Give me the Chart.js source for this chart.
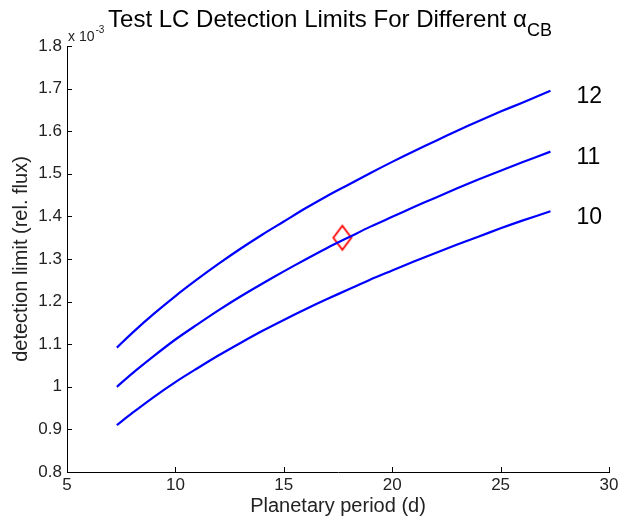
<!DOCTYPE html>
<html lang="en">
<head>
<meta charset="UTF-8">
<title>Test LC Detection Limits</title>
<script src="https://cdn.jsdelivr.net/npm/chart.js"></script>
<style>
  html, body { margin: 0; padding: 0; background: #fff; }
</style>
</head>
<body>
<canvas id="dlChart" width="633" height="520"></canvas>
<script>
// planetary period (d)
const periods = [7.3, 8, 9, 10, 11, 12, 13, 14, 15, 16, 17, 18, 19, 20, 21, 22, 23, 24, 25, 26, 27.3];
// detection limit, units of 1e-3 rel. flux
const limit12 = [1.092, 1.126, 1.171, 1.213, 1.252, 1.289, 1.324, 1.357, 1.388, 1.419, 1.448, 1.475, 1.502, 1.528, 1.553, 1.577, 1.601, 1.624, 1.646, 1.667, 1.695];
const limit11 = [1.000, 1.031, 1.072, 1.111, 1.146, 1.180, 1.212, 1.242, 1.271, 1.299, 1.326, 1.351, 1.376, 1.399, 1.422, 1.444, 1.466, 1.487, 1.507, 1.527, 1.552];
const limit10 = [0.910, 0.938, 0.976, 1.011, 1.043, 1.074, 1.103, 1.131, 1.157, 1.182, 1.206, 1.229, 1.252, 1.273, 1.294, 1.314, 1.334, 1.353, 1.372, 1.390, 1.412];
const seriesNames = ['12', '11', '10'];
const markerX = [17.7];
const markerY = [1.35];
const xTickLabels = ['5', '10', '15', '20', '25', '30'];
const yTickLabels = ['0.8', '0.9', '1', '1.1', '1.2', '1.3', '1.4', '1.5', '1.6', '1.7', '1.8'];

const FONT = '"Liberation Sans", Arial, sans-serif';

function toPoints(ys) {
    return periods.map((p, i) => ({ x: p, y: ys[i] }));
}

// red diamond, a bit taller than wide like the matlab one
const diamond = document.createElement('canvas');
diamond.width = 22;
diamond.height = 28;
(function () {
    const c = diamond.getContext('2d');
    c.strokeStyle = '#ff0000';
    c.lineWidth = 1.8;
    c.beginPath();
    c.moveTo(11, 2);
    c.lineTo(20, 14);
    c.lineTo(11, 26);
    c.lineTo(2, 14);
    c.closePath();
    c.stroke();
})();

const decorations = {
    id: 'decorations',
    afterDraw(chart) {
        const ctx = chart.ctx;
        const xs = chart.scales.x, ys = chart.scales.y;
        const area = chart.chartArea;
        ctx.save();

        // inward tick marks
        ctx.strokeStyle = '#000';
        ctx.lineWidth = 1;
        ctx.beginPath();
        xs.ticks.forEach(t => {
            const px = Math.round(xs.getPixelForValue(t.value)) + 0.5;
            ctx.moveTo(px, area.bottom);
            ctx.lineTo(px, area.bottom - 5);
        });
        ys.ticks.forEach(t => {
            const py = Math.round(ys.getPixelForValue(t.value)) + 0.5;
            ctx.moveTo(area.left, py);
            ctx.lineTo(area.left + 5, py);
        });
        ctx.stroke();

        // exponent label
        ctx.fillStyle = '#222';
        ctx.textBaseline = 'alphabetic';
        ctx.textAlign = 'left';
        ctx.font = '14px ' + FONT;
        ctx.fillText('x 10', area.left + 1, area.top - 5);
        const w = ctx.measureText('x 10').width;
        ctx.font = '10px ' + FONT;
        ctx.fillText('-3', area.left + 2 + w, area.top - 13);

        // title with alpha_CB
        ctx.fillStyle = '#000';
        const main = 'Test LC Detection Limits For Different ';
        ctx.font = '24px ' + FONT;
        const wMain = ctx.measureText(main).width;
        const wAlpha = ctx.measureText('\u03b1').width;
        ctx.font = '18px ' + FONT;
        const wSub = ctx.measureText('CB').width;
        let tx = 330 - (wMain + wAlpha + wSub) / 2;
        const ty = 27;
        ctx.font = '24px ' + FONT;
        ctx.fillText(main, tx, ty);
        tx += wMain;
        ctx.fillText('\u03b1', tx, ty);
        tx += wAlpha;
        ctx.font = '18px ' + FONT;
        ctx.fillText('CB', tx, ty + 9);

        // series labels at curve ends
        ctx.font = '23px ' + FONT;
        ctx.textBaseline = 'middle';
        chart.data.datasets.forEach((ds, i) => {
            if (i >= seriesNames.length) return;
            const last = ds.data[ds.data.length - 1];
            ctx.fillText(seriesNames[i], xs.getPixelForValue(last.x) + 26, ys.getPixelForValue(last.y) + 6);
        });
        ctx.restore();
    }
};

const lineStyle = {
    showLine: true,
    borderColor: '#0000ff',
    borderWidth: 2.2,
    pointRadius: 0,
    tension: 0.3,
    fill: false
};

new Chart(document.getElementById('dlChart'), {
    type: 'scatter',
    data: {
        datasets: [
            Object.assign({ label: seriesNames[0], data: toPoints(limit12) }, lineStyle),
            Object.assign({ label: seriesNames[1], data: toPoints(limit11) }, lineStyle),
            Object.assign({ label: seriesNames[2], data: toPoints(limit10) }, lineStyle),
            {
                label: 'marker',
                data: markerX.map((x, i) => ({ x: x, y: markerY[i] })),
                pointStyle: diamond,
                pointRadius: 10
            }
        ]
    },
    options: {
        responsive: false,
        animation: false,
        layout: { padding: { top: 46, right: 24, left: 0, bottom: 0 } },
        plugins: {
            legend: { display: false },
            tooltip: { enabled: false }
        },
        scales: {
            x: {
                type: 'linear',
                min: 5,
                max: 30,
                afterFit(scale) { scale.height = 48; },
                grid: { drawOnChartArea: false, drawTicks: false },
                border: { color: '#000', width: 1 },
                ticks: {
                    stepSize: 5,
                    padding: 3,
                    color: '#222',
                    font: { family: FONT, size: 17 },
                    callback: (v, i) => xTickLabels[i]
                },
                title: {
                    display: true,
                    text: 'Planetary period (d)',
                    color: '#222',
                    font: { family: FONT, size: 20 },
                    padding: { top: 0, bottom: 2 }
                }
            },
            y: {
                type: 'linear',
                min: 0.8,
                max: 1.8,
                afterFit(scale) { scale.width = 67; },
                grid: { drawOnChartArea: false, drawTicks: false },
                border: { color: '#000', width: 1 },
                ticks: {
                    stepSize: 0.1,
                    padding: 5,
                    color: '#222',
                    font: { family: FONT, size: 17 },
                    callback: (v, i) => yTickLabels[i]
                },
                title: {
                    display: true,
                    text: 'detection limit (rel. flux)',
                    color: '#222',
                    font: { family: FONT, size: 20 },
                    padding: { top: 9, bottom: 0 }
                }
            }
        }
    },
    plugins: [decorations]
});
</script>
</body>
</html>
